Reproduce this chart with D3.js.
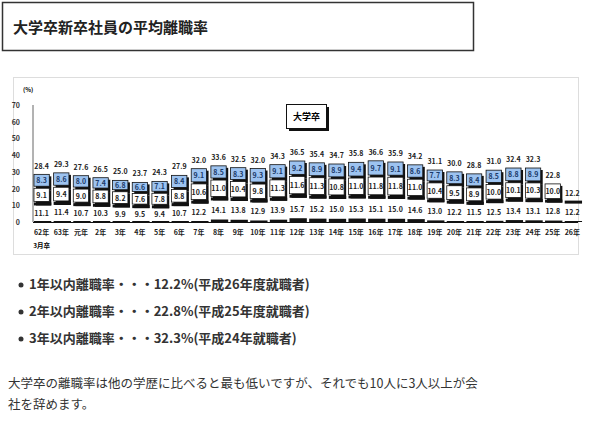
<!DOCTYPE html>
<html><head><meta charset="utf-8">
<script src="https://cdn.jsdelivr.net/npm/d3@7"></script>
<style>body{margin:0;background:#fff;font-family:"Noto Sans CJK JP",sans-serif}</style>
</head><body><svg id="c" width="600" height="422"></svg>
<script>
const categories=["62年","63年","元年","2年","3年","4年","5年","6年","7年","8年","9年","10年","11年","12年","13年","14年","15年","16年","17年","18年","19年","20年","21年","22年","23年","24年","25年","26年"];
const totals=[28.4,29.3,27.6,26.5,25.0,23.7,24.3,27.9,32.0,33.6,32.5,32.0,34.3,36.5,35.4,34.7,35.8,36.6,35.9,34.2,31.1,30.0,28.8,31.0,32.4,32.3,22.8,12.2];
const year1=[11.1,11.4,10.7,10.3,9.9,9.5,9.4,10.7,12.2,14.1,13.8,12.9,13.9,15.7,15.2,15.0,15.3,15.1,15.0,14.6,13.0,12.2,11.5,12.5,13.4,13.1,12.8,12.2];
const year2=[9.1,9.4,9.0,8.8,8.2,7.6,7.8,8.8,10.6,11.0,10.4,9.8,11.3,11.6,11.3,10.8,11.0,11.8,11.8,11.0,10.4,9.5,8.9,10.0,10.1,10.3,10.0,null];
const year3=[8.3,8.6,8.0,7.4,6.8,6.6,7.1,8.4,9.1,8.5,8.3,9.3,9.1,9.2,8.9,8.9,9.4,9.7,9.1,8.6,7.7,8.3,8.4,8.5,8.8,8.9,null,null];
const yTicks=[0,10,20,30,40,50,60,70];
const svg=d3.select("#c");
svg.append("rect").attr("x",2.5).attr("y",2.5).attr("width",471).attr("height",48).attr("fill","#fff").attr("stroke","#333").attr("stroke-width",1.5);
svg.append("text").attr("x",13).attr("y",33).attr("font-size",15).attr("font-weight","bold").attr("fill","#222").text("大学卒新卒社員の平均離職率");
svg.append("rect").attr("x",13.5).attr("y",77.5).attr("width",565).attr("height",177).attr("fill","#fff").attr("stroke","#ddd");
const x=d3.scaleBand().domain(categories).range([32,582]).paddingInner(0.22).paddingOuter(0.1);
const y=d3.scaleLinear().domain([0,70]).range([222,105]);
const g=svg.append("g");
g.append("line").attr("x1",33).attr("x2",33).attr("y1",y(70)).attr("y2",y(0)).attr("stroke","#666");
yTicks.forEach(t=>g.append("text").attr("x",20).attr("y",y(t)+3).attr("text-anchor","end").attr("font-size",7).attr("font-weight","bold").attr("fill","#333").text(t));
g.append("text").attr("x",23).attr("y",92).attr("font-size",6).attr("font-weight","bold").text("(%)");
const bw=x.bandwidth();
categories.forEach((c,i)=>{
  const x0=x(c);
  const segs=[];
  if(year2[i]!=null) segs.push([year1[i],year1[i]+year2[i],"#fff"]);
  if(year3[i]!=null) segs.push([year1[i]+year2[i],year1[i]+year2[i]+year3[i],"#9dc3f0"]);
  segs.forEach(s=>{
    g.append("rect").attr("x",x0+2).attr("y",y(s[1])+2).attr("width",bw).attr("height",y(s[0])-y(s[1])).attr("fill","#111");
  });
  segs.forEach(s=>{
    g.append("rect").attr("x",x0).attr("y",y(s[1])).attr("width",bw).attr("height",y(s[0])-y(s[1])-2).attr("fill",s[2]).attr("stroke","#111").attr("stroke-width",0.8);
  });
  g.append("rect").attr("x",x0).attr("y",y(year1[i])-1).attr("width",bw+2).attr("height",3).attr("fill","#111");
  const bh=Math.max(1,Math.min(4,(year1[i]-11)*0.8));
  g.append("rect").attr("x",x0).attr("y",y(0)-bh).attr("width",bw+2).attr("height",bh).attr("fill","#111");
  const fs=7;
  g.append("text").attr("x",x0+bw/2).attr("y",y(year1[i]/2)+3).attr("text-anchor","middle").attr("font-size",fs).attr("font-weight","bold").attr("fill","#222").text(year1[i].toFixed(1));
  if(year2[i]!=null) g.append("text").attr("x",x0+bw/2).attr("y",y(year1[i]+year2[i]/2)+2).attr("text-anchor","middle").attr("font-size",fs).attr("font-weight","bold").attr("fill","#222").text(year2[i].toFixed(1));
  if(year3[i]!=null) g.append("text").attr("x",x0+bw/2).attr("y",y(year1[i]+year2[i]+year3[i]/2)+2).attr("text-anchor","middle").attr("font-size",fs).attr("font-weight","bold").attr("fill","#1a3a6a").text(year3[i].toFixed(1));
  g.append("text").attr("x",x0+bw/2).attr("y",y(totals[i])-6).attr("text-anchor","middle").attr("font-size",fs).attr("font-weight","bold").attr("fill","#222").text(totals[i].toFixed(1));
  g.append("text").attr("x",x0+bw/2).attr("y",235).attr("text-anchor","middle").attr("font-size",7).attr("font-weight","bold").attr("fill","#222").text(c);
});
g.append("line").attr("x1",33).attr("x2",578).attr("y1",y(0)+0.5).attr("y2",y(0)+0.5).attr("stroke","#111").attr("stroke-width",1.2);
g.append("text").attr("x",x(categories[0])+bw/2).attr("y",248).attr("text-anchor","middle").attr("font-size",6.5).attr("font-weight","bold").text("3月卒");
g.append("rect").attr("x",289).attr("y",107).attr("width",40).attr("height",24).attr("fill","#111");
g.append("rect").attr("x",286.5).attr("y",104.5).attr("width",40).attr("height",24).attr("fill","#fff").attr("stroke","#111");
g.append("text").attr("x",306.5).attr("y",120).attr("text-anchor","middle").attr("font-size",9).attr("font-weight","bold").text("大学卒");
const bullets=["1年以内離職率・・・12.2%(平成26年度就職者)","2年以内離職率・・・22.8%(平成25年度就職者)","3年以内離職率・・・32.3%(平成24年就職者)"];
bullets.forEach((b,i)=>{
  const yy=289+i*27;
  svg.append("circle").attr("cx",21).attr("cy",yy-4).attr("r",2.5).attr("fill","#333");
  svg.append("text").attr("x",29).attr("y",yy).attr("font-size",13).attr("font-weight","bold").attr("fill","#333").text(b);
});
svg.append("text").attr("x",8).attr("y",388).attr("font-size",12.5).attr("fill","#333").text("大学卒の離職率は他の学歴に比べると最も低いですが、それでも10人に3人以上が会");
svg.append("text").attr("x",8).attr("y",409).attr("font-size",12.5).attr("fill","#333").text("社を辞めます。");
</script></body></html>
